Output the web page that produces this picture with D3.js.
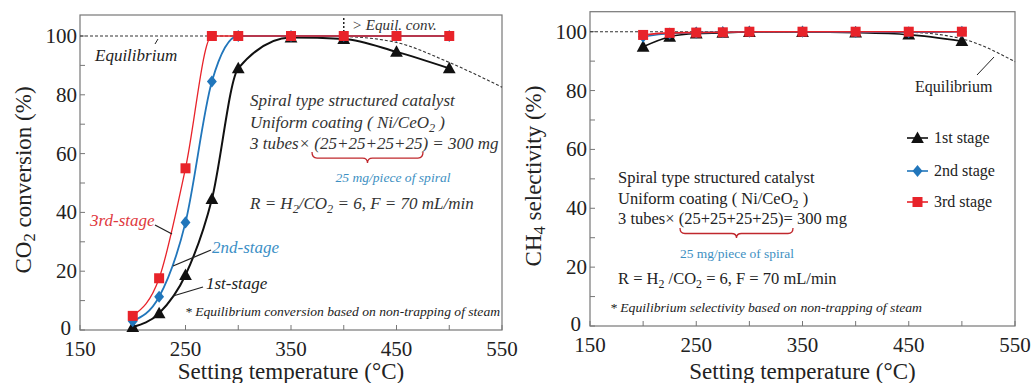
<!DOCTYPE html>
<html><head><meta charset="utf-8">
<script src="https://cdn.jsdelivr.net/npm/d3@7"></script>
<style>
body{margin:0;background:#fff;}
text{font-family:"Liberation Serif","Tinos","Times New Roman","DejaVu Serif",serif;}
</style></head>
<body><svg id="c" width="1033" height="383" font-family="Liberation Serif, DejaVu Serif, serif"></svg>
<script>
// ---------------- data ----------------
const temps = [200,225,250,275,300,350,400,450,500];
const conv1 = [1,5.7,18.7,44.5,89,99.5,99,94.6,89];
const conv2 = [3,11.3,36.6,84.5,100,100,100,100,100];
const conv3 = [4.8,17.6,55,100,100,100,100,100,100];
const eqTemps = [150,200,250,300,350,400,450,500,550];
const eqConv = [100,100,100,100,100,99.8,97.8,91,82.6];
const sel1 = [94.9,98.3,99.4,99.6,99.9,99.9,99.7,99,96.8];
const sel2 = [98.3,99.4,99.7,99.8,100,100,99.9,99.8,100];
const sel3 = [98.9,99.6,99.7,99.8,100,100,100,100,100];
const eqSel = [100,100,100,100,100,100,99.8,97.6,89.8];
const xTicks = [150,200,250,300,350,400,450,500,550];
const xLabels = [150,250,350,450,550];
const yTicks = [0,10,20,30,40,50,60,70,80,90,100];
const yLabels = [0,20,40,60,80,100];
const seriesNames = ["1st stage","2nd stage","3rd stage"];

const RED="#e8232a", BLUE="#2176bb", BLK="#111";
const svg = d3.select("#c");

function rich(g, x, y, parts, opts){
  const t = g.append("text").attr("x",x).attr("y",y)
    .attr("font-size",opts.size).attr("fill",opts.fill||"#222")
    .attr("font-style",opts.italic?"italic":"normal")
    .attr("text-anchor",opts.anchor||"start");
  if(opts.len) t.attr("textLength",opts.len).attr("lengthAdjust","spacingAndGlyphs");
  let sub=false;
  parts.forEach(p=>{
    if(typeof p==="string"){
      const s=t.append("tspan").text(p);
      if(sub){s.attr("dy",-4);sub=false;}
    } else {
      t.append("tspan").attr("dy",4).attr("font-size",opts.size*0.72).text(p.s);
      sub=true;
    }
  });
  return t;
}
function brace(g,x1,x2,y,h,color){
  const m=(x1+x2)/2, r=5, yh=y+h*0.55;
  g.append("path").attr("fill","none").attr("stroke",color).attr("stroke-width",1.3)
   .attr("d",`M${x1},${y} Q${x1},${yh} ${x1+r},${yh} L${m-r},${yh} Q${m},${yh} ${m},${y+h} Q${m},${yh} ${m+r},${yh} L${x2-r},${yh} Q${x2},${yh} ${x2},${y}`);
}
function marker(g,type,x,y,color,s){
  if(type==="tri") g.append("path").attr("d",`M${x},${y-s*0.6} L${x+s*0.58},${y+s*0.45} L${x-s*0.58},${y+s*0.45}Z`).attr("fill",color);
  else if(type==="dia") g.append("path").attr("d",`M${x},${y-s*0.55} L${x+s*0.45},${y} L${x},${y+s*0.55} L${x-s*0.45},${y}Z`).attr("fill",color);
  else g.append("rect").attr("x",x-s/2).attr("y",y-s/2).attr("width",s).attr("height",s).attr("fill",color);
}

function panel(cfg){
  const g = svg.append("g");
  const x = d3.scaleLinear().domain([150,550]).range(cfg.xr);
  const y = d3.scaleLinear().domain([0,100]).range(cfg.yr);
  const top = cfg.top, bot = cfg.yr[0];
  g.append("rect").attr("x",cfg.xr[0]).attr("y",top).attr("width",cfg.xr[1]-cfg.xr[0]).attr("height",bot-top)
   .attr("fill","none").attr("stroke","#777").attr("stroke-width",1.2);
  xTicks.forEach(t=>g.append("line").attr("x1",x(t)).attr("x2",x(t)).attr("y1",bot).attr("y2",bot-5).attr("stroke","#777"));
  yTicks.forEach(t=>g.append("line").attr("x1",cfg.xr[0]).attr("x2",cfg.xr[0]+5).attr("y1",y(t)).attr("y2",y(t)).attr("stroke","#777"));
  xLabels.forEach(t=>g.append("text").attr("x",x(t)).attr("y",bot+26).attr("text-anchor","middle").attr("font-size",21).attr("fill","#222").text(t));
  yLabels.forEach(t=>g.append("text").attr("x",cfg.xr[0]-3-(t===0?6:0)).attr("y",y(t)+(t===0?5:7)).attr("text-anchor","end").attr("font-size",21).attr("fill","#222").text(t));
  g.append("text").attr("x",(cfg.xr[0]+cfg.xr[1])/2).attr("y",379).attr("text-anchor","middle").attr("font-size",23).attr("fill","#222").text("Setting temperature (°C)");
  const yt = rich(g,0,0,cfg.ytitle,{size:23,anchor:"middle"});
  yt.attr("transform",`translate(${cfg.ytx},${cfg.yty}) rotate(-90)`);
  const ln = d3.line().x(d=>x(d[0])).y(d=>y(d[1])).curve(d3.curveMonotoneX);
  g.append("path").attr("d",ln(eqTemps.map((t,i)=>[t,cfg.eq[i]]))).attr("fill","none")
   .attr("stroke","#333").attr("stroke-width",1.1).attr("stroke-dasharray","3,2");
  const ser = [{v:cfg.s1,c:BLK,m:"tri",w:cfg.w[0]},{v:cfg.s2,c:BLUE,m:"dia",w:cfg.w[1]},{v:cfg.s3,c:RED,m:"sq",w:cfg.w[2]}];
  ser.forEach(s=>{
    g.append("path").attr("d",ln(temps.map((t,i)=>[t,s.v[i]]))).attr("fill","none").attr("stroke",s.c).attr("stroke-width",s.w);
  });
  ser.forEach(s=>{ temps.forEach((t,i)=>marker(g,s.m,x(t),y(s.v[i]),s.c,s.m==="sq"?10:11)); });
  return {g,x,y};
}

// ---------- left panel ----------
const L = panel({xr:[80,502],yr:[330,36],top:15,ytx:31,yty:180,
  ytitle:["CO",{s:"2"}," conversion (%)"],eq:eqConv,s1:conv1,s2:conv2,s3:conv3,w:[2,1.8,1.3]});
{
  const g=L.g;
  g.append("text").attr("x",95).attr("y",61).attr("font-size",17).attr("font-style","italic").attr("fill","#222").text("Equilibrium");
  g.append("line").attr("x1",155).attr("y1",44).attr("x2",158).attr("y2",39).attr("stroke","#222");
  g.append("line").attr("x1",L.x(400)).attr("x2",L.x(400)).attr("y1",18).attr("y2",31).attr("stroke","#222").attr("stroke-width",1.5).attr("stroke-dasharray","2,2");
  g.append("text").attr("x",352).attr("y",30).attr("font-size",15).attr("font-style","italic").attr("fill","#333").text("> Equil. conv.");
  const o={size:17,italic:true,fill:"#333"};
  rich(g,250,106,["Spiral type structured catalyst"],o);
  rich(g,250,128,["Uniform coating ( Ni/CeO",{s:"2"}," )"],o);
  rich(g,250,149,["3 tubes× (25+25+25+25) = 300 mg"],o);
  brace(g,312,423,152,11,"#c0282d");
  rich(g,393,182,["25 mg/piece of spiral"],{size:12.5,italic:true,fill:"#3d8fc2",anchor:"middle",len:115});
  rich(g,250,209,["R = H",{s:"2"},"/CO",{s:"2"}," = 6, F = 70 mL/min"],o);
  rich(g,185,316,["* Equilibrium conversion based on non-trapping of steam"],{size:13,italic:true,fill:"#222",len:315});
  rich(g,90,226,["3rd-stage"],{size:17,italic:true,fill:"#e0393e"});
  g.append("line").attr("x1",155).attr("y1",225).attr("x2",172).attr("y2",234).attr("stroke","#222").attr("stroke-width",1.3);
  rich(g,212,253,["2nd-stage"],{size:17,italic:true,fill:"#3b8fc6"});
  g.append("line").attr("x1",211).attr("y1",250).attr("x2",173).attr("y2",266).attr("stroke","#222").attr("stroke-width",1.3);
  rich(g,206,289,["1st-stage"],{size:17,italic:true,fill:"#222"});
  g.append("line").attr("x1",203).attr("y1",287).attr("x2",173).attr("y2",296).attr("stroke","#222").attr("stroke-width",1.3);
}

// ---------- right panel ----------
const R = panel({xr:[590,1015],yr:[326,31.7],top:11.7,ytx:541,yty:176,
  ytitle:["CH",{s:"4"}," selectivity (%)"],eq:eqSel,s1:sel1,s2:sel2,s3:sel3,w:[1.6,1.6,1.6]});
{
  const g=R.g;
  g.append("text").attr("x",915).attr("y",92).attr("font-size",16).attr("fill","#222").text("Equilibrium");
  g.append("line").attr("x1",977).attr("y1",75).attr("x2",994).attr("y2",57).attr("stroke","#222");
  const o={size:16.5,fill:"#222"};
  rich(g,618,183,["Spiral type structured catalyst"],o);
  rich(g,618,204,["Uniform coating ( Ni/CeO",{s:"2"}," )"],o);
  rich(g,618,224,["3 tubes× (25+25+25+25)= 300 mg"],o);
  brace(g,680,793,228,10,"#c0282d");
  rich(g,737,258,["25 mg/piece of spiral"],{size:12.5,fill:"#3d8fc2",anchor:"middle",len:114});
  rich(g,618,284,["R = H",{s:"2"}," /CO",{s:"2"}," = 6, F = 70 mL/min"],o);
  rich(g,610,312,["* Equilibrium selectivity based on non-trapping of steam"],{size:13,italic:true,fill:"#222",len:312});
  const cols=[BLK,BLUE,RED], ms=["tri","dia","sq"], ly=[138,171,202];
  seriesNames.forEach((n,i)=>{
    g.append("line").attr("x1",907).attr("x2",928).attr("y1",ly[i]).attr("y2",ly[i]).attr("stroke",cols[i]).attr("stroke-width",1.6);
    marker(g,ms[i],917.5,ly[i],cols[i],ms[i]==="sq"?10:11);
    g.append("text").attr("x",934).attr("y",ly[i]+5).attr("font-size",16).attr("fill","#222").text(n);
  });
}
</script></body></html>
